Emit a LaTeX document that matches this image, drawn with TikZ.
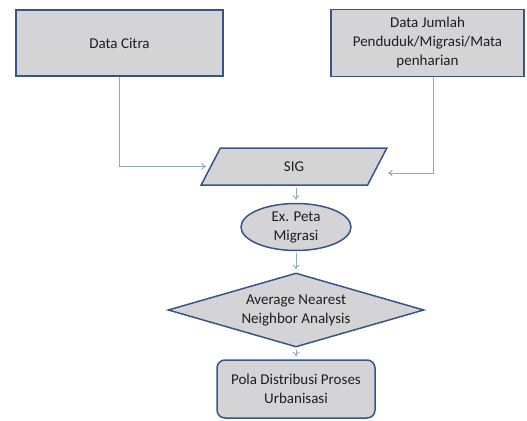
\documentclass[tikz,border=0pt]{standalone}
\usepackage{fontspec}
\setmainfont{Carlito}
\usetikzlibrary{shapes.geometric,arrows.meta}
\definecolor{boxfill}{RGB}{212,212,215}
\definecolor{boxdraw}{RGB}{55,86,134}
\definecolor{conn}{RGB}{145,168,196}
\definecolor{txt}{RGB}{30,30,30}
\tikzset{
  shapebase/.style={draw=boxdraw, fill=boxfill, line width=1.5pt, text=txt, align=center, inner sep=0pt,
    font=\fontsize{15}{19}\selectfont},
  rectbox/.style={shapebase, rectangle},
  connector/.style={draw=conn, line width=0.9pt, -{To[length=4.5pt,width=7pt]}},
}
\begin{document}
\begin{tikzpicture}[x=1pt,y=-1pt]
\useasboundingbox (0,0) rectangle (527,420);
\node[rectbox, minimum width=207pt, minimum height=66pt] (citra) at (119.5,43) {Data Citra};
\node[rectbox, minimum width=193pt, minimum height=67pt] (data) at (427.5,43) {Data Jumlah\\Penduduk/Migrasi/Mata\\penharian};
\node[shapebase, trapezium, trapezium left angle=75, trapezium right angle=105, trapezium stretches=true,
      minimum width=186pt, minimum height=37pt] (sig) at (294,166.5) {SIG};
\node[shapebase, ellipse, minimum width=110pt, minimum height=47pt] (peta) at (296,227) {Ex. Peta\\Migrasi};
\node[shapebase, diamond, aspect=3.46, minimum width=256pt, minimum height=74pt] (ann) at (296,310) {Average Nearest\\Neighbor Analysis};
\node[rectbox, rounded corners=8pt, minimum width=158pt, minimum height=58pt] (pola) at (296,389) {Pola Distribusi Proses\\Urbanisasi};

\draw[connector, shorten >=4pt] (citra.south) |- (sig);
\draw[connector, shorten >=10pt] (data.south -| 433,0) |- ([yshift=-6.5pt]sig.east);
\draw[connector, shorten <=2pt, shorten >=3pt] (sig.south -| peta.north) -- (peta.north);
\draw[connector, shorten <=2pt, shorten >=3pt] (peta.south) -- (ann.north);
\draw[connector, shorten <=2pt, shorten >=3pt] (ann.south) -- (pola.north);
\end{tikzpicture}
\end{document}
